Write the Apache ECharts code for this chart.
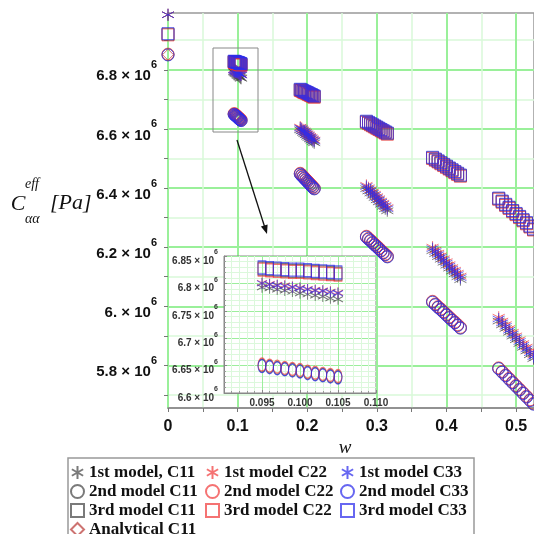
<!DOCTYPE html>
<html><head><meta charset="utf-8">
<script src="https://cdn.jsdelivr.net/npm/echarts@6/dist/echarts.min.js"></script>
<style>html,body{margin:0;padding:0;background:#fff}#c{width:534px;height:534px}</style>
</head><body><div id="c"></div>
<script>
// volume fraction w
const w = [0,
0.095,0.096,0.097,0.098,0.099,0.100,0.101,0.102,0.103,0.104,0.105,
0.190,0.192,0.194,0.196,0.198,0.200,0.202,0.204,0.206,0.208,0.210,
0.285,0.288,0.291,0.294,0.297,0.300,0.303,0.306,0.309,0.312,0.315,
0.380,0.384,0.388,0.392,0.396,0.400,0.404,0.408,0.412,0.416,0.420,
0.475,0.480,0.485,0.490,0.495,0.500,0.505,0.510,0.515,0.520,0.525];
// effective stiffness, in units of 10^6 Pa
const m1C11 = [6.986,
6.793,6.791,6.789,6.787,6.785,6.782,6.780,6.778,6.776,6.773,6.771,
6.597,6.593,6.588,6.584,6.580,6.575,6.571,6.566,6.562,6.557,6.553,
6.398,6.390,6.383,6.375,6.368,6.360,6.353,6.345,6.338,6.330,6.323,
6.188,6.178,6.168,6.159,6.149,6.139,6.129,6.119,6.110,6.100,6.090,
5.950,5.937,5.925,5.912,5.899,5.887,5.874,5.861,5.849,5.836,5.823];
const m1C22 = [6.986,
6.801,6.799,6.797,6.796,6.794,6.792,6.790,6.788,6.787,6.785,6.783,
6.606,6.602,6.597,6.593,6.589,6.584,6.580,6.575,6.571,6.566,6.562,
6.409,6.401,6.394,6.386,6.379,6.371,6.364,6.356,6.349,6.341,6.334,
6.200,6.190,6.180,6.171,6.161,6.151,6.141,6.131,6.122,6.112,6.102,
5.963,5.950,5.938,5.925,5.912,5.900,5.887,5.874,5.862,5.849,5.836];
const m1C33 = [6.986,
6.800,6.798,6.796,6.795,6.793,6.791,6.789,6.787,6.786,6.784,6.782,
6.603,6.599,6.594,6.590,6.586,6.581,6.577,6.572,6.568,6.563,6.559,
6.405,6.397,6.390,6.382,6.375,6.367,6.360,6.352,6.345,6.337,6.330,
6.195,6.185,6.175,6.166,6.156,6.146,6.136,6.126,6.117,6.107,6.097,
5.957,5.944,5.932,5.919,5.906,5.894,5.881,5.868,5.856,5.843,5.830];
const m2C11 = [6.851,
6.650,6.648,6.646,6.644,6.642,6.640,6.637,6.635,6.633,6.631,6.629,
6.448,6.443,6.438,6.433,6.428,6.423,6.418,6.413,6.408,6.403,6.398,
6.235,6.228,6.222,6.215,6.208,6.202,6.195,6.188,6.181,6.175,6.168,
6.015,6.006,5.997,5.989,5.980,5.971,5.962,5.953,5.945,5.936,5.927,
5.790,5.778,5.766,5.754,5.742,5.730,5.718,5.706,5.694,5.682,5.670];
const m2C22 = [6.853,
6.652,6.650,6.648,6.646,6.644,6.642,6.639,6.637,6.635,6.633,6.631,
6.450,6.445,6.440,6.435,6.430,6.425,6.420,6.415,6.410,6.405,6.400,
6.237,6.230,6.224,6.217,6.210,6.204,6.197,6.190,6.183,6.177,6.170,
6.017,6.008,5.999,5.991,5.982,5.973,5.964,5.955,5.947,5.938,5.929,
5.792,5.780,5.768,5.756,5.744,5.732,5.720,5.708,5.696,5.684,5.672];
const m2C33 = [6.850,
6.649,6.647,6.645,6.643,6.641,6.639,6.636,6.634,6.632,6.630,6.628,
6.447,6.442,6.437,6.432,6.427,6.422,6.417,6.412,6.407,6.402,6.397,
6.234,6.227,6.221,6.214,6.207,6.201,6.194,6.187,6.180,6.174,6.167,
6.014,6.005,5.996,5.988,5.979,5.970,5.961,5.952,5.944,5.935,5.926,
5.789,5.777,5.765,5.753,5.741,5.729,5.717,5.705,5.693,5.681,5.669];
const m3C11 = [6.920,
6.827,6.826,6.825,6.824,6.823,6.823,6.822,6.821,6.820,6.819,6.818,
6.732,6.730,6.727,6.725,6.723,6.721,6.718,6.716,6.714,6.711,6.709,
6.624,6.620,6.616,6.612,6.608,6.604,6.600,6.596,6.592,6.588,6.584,
6.502,6.496,6.490,6.484,6.478,6.472,6.466,6.460,6.454,6.448,6.442,
6.364,6.354,6.343,6.333,6.322,6.312,6.302,6.291,6.281,6.270,6.260];
const m3C22 = [6.918,
6.825,6.824,6.823,6.822,6.821,6.821,6.820,6.819,6.818,6.817,6.816,
6.730,6.728,6.725,6.723,6.721,6.719,6.716,6.714,6.712,6.709,6.707,
6.622,6.618,6.614,6.610,6.606,6.602,6.598,6.594,6.590,6.586,6.582,
6.500,6.494,6.488,6.482,6.476,6.470,6.464,6.458,6.452,6.446,6.440,
6.362,6.352,6.341,6.331,6.320,6.310,6.300,6.289,6.279,6.268,6.258];
const m3C33 = [6.922,
6.829,6.828,6.827,6.826,6.825,6.825,6.824,6.823,6.822,6.821,6.820,
6.734,6.732,6.729,6.727,6.725,6.723,6.720,6.718,6.716,6.713,6.711,
6.626,6.622,6.618,6.614,6.610,6.606,6.602,6.598,6.594,6.590,6.586,
6.504,6.498,6.492,6.486,6.480,6.474,6.468,6.462,6.456,6.450,6.444,
6.366,6.356,6.345,6.335,6.324,6.314,6.304,6.293,6.283,6.272,6.262];
const wA = [0];
const aC11 = [6.851];

// axis ticks / labels
const xLabelVals = [0,0.1,0.2,0.3,0.4,0.5];
const xTickVals = [0,0.05,0.1,0.15,0.2,0.25,0.3,0.35,0.4,0.45,0.5];
const yLabelVals = [5.8,6.0,6.2,6.4,6.6,6.8];
const yTickVals = [5.7,5.8,5.9,6.0,6.1,6.2,6.3,6.4,6.5,6.6,6.7,6.8,6.9];

const MAJ = '#9af09a', MIN = '#d8f8d8', NONE = 'rgba(0,0,0,0)';
const STAR = 'path://M10,0L10,20M1.34,5L18.66,15M1.34,15L18.66,5';
const COL = {C11:'rgba(60,60,60,0.85)', C22:'rgba(240,50,50,0.85)', C33:'rgba(45,45,235,0.9)', A:'#c0504d'};

const chart = echarts.init(document.getElementById('c'), null, {renderer:'canvas'});

function pairs(xs, ys){ return xs.map((x,i)=>[x, ys[i]]); }
function inInset(p){ return p[0] >= 0.09 && p[0] <= 0.11; }

const defs = [
  ['1st model, C11', m1C11, STAR, COL.C11],
  ['1st model C22', m1C22, STAR, COL.C22],
  ['1st model C33', m1C33, STAR, COL.C33],
  ['2nd model C11', m2C11, 'circle', COL.C11],
  ['2nd model C22', m2C22, 'circle', COL.C22],
  ['2nd model C33', m2C33, 'circle', COL.C33],
  ['3rd model C11', m3C11, 'rect', COL.C11],
  ['3rd model C22', m3C22, 'rect', COL.C22],
  ['3rd model C33', m3C33, 'rect', COL.C33]
];
const series = [];
defs.forEach(d => {
  const data = pairs(w, d[1]);
  const isStar = d[2] === STAR;
  series.push({type:'scatter', name:d[0], xAxisIndex:0, yAxisIndex:0, data:data,
    symbol:d[2], symbolSize: isStar ? 12 : 12, silent:true, z:2,
    itemStyle:{color:NONE, borderColor:d[3], borderWidth:1}});
});
series.push({type:'scatter', name:'Analytical C11', xAxisIndex:0, yAxisIndex:0, data:pairs(wA, aC11),
  symbol:'diamond', symbolSize:11, silent:true, z:2,
  itemStyle:{color:NONE, borderColor:COL.A, borderWidth:1}});
defs.forEach(d => {
  const data = pairs(w, d[1]).filter(inInset);
  const isStar = d[2] === STAR;
  series.push({type:'scatter', name:d[0], xAxisIndex:2, yAxisIndex:2, data:data,
    symbol:d[2], symbolSize: isStar ? [10,11] : [8,13], silent:true, z:8,
    itemStyle:{color:NONE, borderColor:d[3], borderWidth:1}});
});

const F = 'Liberation Sans';
const mainRich = {
  b:{fontSize:15, fontWeight:'bold', fontFamily:F, color:'#111', lineHeight:15, verticalAlign:'bottom'},
  s:{fontSize:11, fontWeight:'bold', fontFamily:F, color:'#111', verticalAlign:'top', padding:[4,0,0,0]},
  p:{fontSize:1, lineHeight:28}
};
const insetRich = {
  b:{fontSize:10, fontWeight:'bold', fontFamily:F, color:'#333', lineHeight:10, verticalAlign:'bottom'},
  s:{fontSize:7, fontWeight:'bold', fontFamily:F, color:'#333', verticalAlign:'top', padding:[3,0,0,0]},
  p:{fontSize:1, lineHeight:20}
};
function mainY(v){ const t = Math.abs(v-6) < 1e-9 ? '6.' : v.toFixed(1); return '{b|' + t + ' × 10}{s|6}{p|\u200b}'; }
function insetY(v){ const t = String(parseFloat(v.toFixed(2))); return '{b|' + t + ' × 10}{s|6}{p|\u200b}'; }

const legendText = {fontFamily:'Liberation Serif', fontSize:17, fontWeight:'bold', color:'#111', lineHeight:19};
function leg(left, top, data){
  return {orient:'vertical', left:left, top:top, padding:0, itemGap:0, itemWidth:13, itemHeight:13,
    selectedMode:false, textStyle:legendText, data:data};
}

const option = {
  animation:false,
  backgroundColor:'#fff',
  grid:[
    {left:168, top:13, width:368, height:395, show:true, borderColor:'#999', borderWidth:1.5, backgroundColor:NONE, z:0},
    {left:224, top:256, width:152, height:137, show:true, borderColor:'#888', borderWidth:1, backgroundColor:'#fff', z:5}
  ],
  xAxis:[
    {type:'value', gridIndex:0, min:0, max:0.5257, z:1,
      axisLine:{show:true, onZero:false, lineStyle:{color:'#888', width:1.5}},
      axisTick:{show:true, customValues:xTickVals, length:4, lineStyle:{color:'#777'}},
      axisLabel:{customValues:xLabelVals, margin:11, fontSize:16, fontWeight:'bold', fontFamily:F, color:'#111',
        formatter:v => v === 0 ? '0' : v.toFixed(1)},
      splitLine:{show:true, lineStyle:{color:[NONE, MIN], width:1.5}}},
    {type:'value', gridIndex:0, min:0, max:0.5257, position:'top', z:1,
      axisLine:{show:false}, axisLabel:{show:false},
      axisTick:{show:false, customValues:xLabelVals},
      splitLine:{show:true, lineStyle:{color:MAJ, width:2}}},
    {type:'value', gridIndex:1, min:0.09, max:0.11, interval:0.005, z:6,
      axisLine:{show:true, onZero:false, lineStyle:{color:'#888'}},
      axisTick:{show:true, inside:true, length:3, lineStyle:{color:'#888'}},
      minorTick:{show:true, splitNumber:5, length:2, lineStyle:{color:'#999'}},
      axisLabel:{margin:5, fontSize:10, fontWeight:'bold', fontFamily:F, color:'#333', showMinLabel:false,
        formatter:v => v.toFixed(3)},
      splitLine:{show:true, lineStyle:{color:'#9cee9c', width:1}},
      minorSplitLine:{show:true, lineStyle:{color:'#dcf8dc', width:1}}}
  ],
  yAxis:[
    {type:'value', gridIndex:0, min:5.656, max:6.992, z:1,
      axisLine:{show:false},
      axisTick:{show:true, customValues:yTickVals, length:4, lineStyle:{color:'#777'}},
      axisLabel:{customValues:yLabelVals, margin:11, formatter:mainY, rich:mainRich},
      splitLine:{show:true, lineStyle:{color:[MIN, NONE], width:1.5}}},
    {type:'value', gridIndex:0, min:5.656, max:6.992, position:'right', z:1,
      axisLine:{show:false}, axisLabel:{show:false},
      axisTick:{show:false, customValues:yLabelVals},
      splitLine:{show:true, lineStyle:{color:MAJ, width:2}}},
    {type:'value', gridIndex:1, min:6.6, max:6.85, interval:0.05, z:6,
      axisLine:{show:true, onZero:false, lineStyle:{color:'#888'}},
      axisTick:{show:true, inside:true, length:3, lineStyle:{color:'#888'}},
      minorTick:{show:true, splitNumber:5, length:2, lineStyle:{color:'#999'}},
      axisLabel:{margin:6, formatter:insetY, rich:insetRich},
      splitLine:{show:true, lineStyle:{color:'#9cee9c', width:1}},
      minorSplitLine:{show:true, lineStyle:{color:'#dcf8dc', width:1}}}
  ],
  legend:[
    leg(70, 463, ['1st model, C11','2nd model C11','3rd model C11']),
    leg(70, 520, ['Analytical C11']),
    leg(205, 463, ['1st model C22','2nd model C22','3rd model C22']),
    leg(340, 463, ['1st model C33','2nd model C33','3rd model C33'])
  ],
  graphic:[
    {type:'rect', z:10, shape:{x:213, y:48, width:45, height:84}, style:{fill:NONE, stroke:'#888', lineWidth:1}},
    {type:'line', z:10, shape:{x1:237, y1:140, x2:265, y2:228}, style:{stroke:'#111', lineWidth:1.3}},
    {type:'polygon', z:10, shape:{points:[[267,234],[260.9,226.5],[267.6,224.4]]}, style:{fill:'#111'}},
    {type:'rect', z:10, shape:{x:68, y:458, width:406, height:100}, style:{fill:NONE, stroke:'#999', lineWidth:1.5}},
    {type:'text', z:10, x:18, y:204, style:{text:'C', font:'italic 22px "Liberation Serif"', fill:'#111', align:'center', verticalAlign:'middle', textAlign:'center', textVerticalAlign:'middle'}},
    {type:'text', z:10, x:25, y:184, style:{text:'eff', font:'italic 14px "Liberation Serif"', fill:'#111', align:'left', verticalAlign:'middle', textAlign:'left', textVerticalAlign:'middle'}},
    {type:'text', z:10, x:25, y:219, style:{text:'αα', font:'italic 14px "Liberation Serif"', fill:'#111', align:'left', verticalAlign:'middle', textAlign:'left', textVerticalAlign:'middle'}},
    {type:'text', z:10, x:50, y:203, style:{text:'[Pa]', font:'italic 22px "Liberation Serif"', fill:'#111', align:'left', verticalAlign:'middle', textAlign:'left', textVerticalAlign:'middle'}},
    {type:'text', z:10, x:345, y:448, style:{text:'w', font:'italic 19px "Liberation Serif"', fill:'#111', align:'center', verticalAlign:'middle', textAlign:'center', textVerticalAlign:'middle'}}
  ],
  series:series
};
chart.setOption(option);
</script></body></html>
